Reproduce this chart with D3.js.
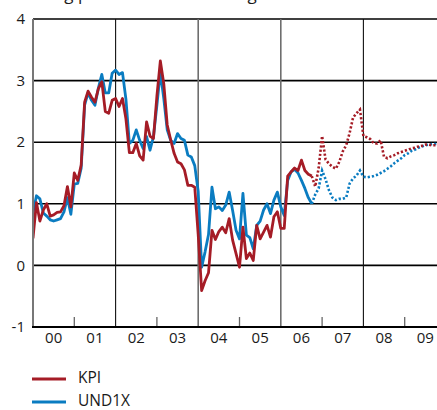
<!DOCTYPE html>
<html><head><meta charset="utf-8">
<script src="https://cdn.jsdelivr.net/npm/d3@7"></script>
<style>body{margin:0;background:#fff}svg{display:block}text{font-family:"Open Sans",sans-serif;fill:#1a1a1a}</style>
</head><body>
<script>
const title = "Årlig procentuell förändring";
const seriesNames = ["KPI", "UND1X"];
const seriesColors = ["#a51c26", "#0a7cc1"];
const startYear = 2000;
// monthly values Jan 2000 - Oct 2006 (outcome)
const kpiActual = [
  0.44,1.02,0.72,0.9,1.0,0.8,0.82,0.86,0.87,0.97,1.28,0.95,
  1.5,1.38,1.63,2.65,2.83,2.73,2.65,2.87,2.98,2.5,2.47,2.68,
  2.71,2.58,2.71,2.38,1.83,1.83,1.98,1.78,1.71,2.33,2.1,2.06,
  2.75,3.32,2.95,2.28,2.04,1.82,1.68,1.65,1.55,1.3,1.3,1.27,
  0.5,-0.41,-0.25,-0.12,0.57,0.42,0.55,0.62,0.53,0.76,0.41,0.19,
  -0.03,0.62,0.11,0.2,0.08,0.65,0.43,0.54,0.65,0.46,0.79,0.87,
  0.6,0.6,1.45,1.52,1.58,1.54,1.71,1.54,1.48,1.45];
const undActual = [
  0.85,1.13,1.08,0.85,0.8,0.74,0.72,0.74,0.76,0.87,1.1,0.83,
  1.32,1.33,1.58,2.6,2.8,2.68,2.6,2.88,3.1,2.8,2.8,3.12,
  3.17,3.1,3.13,2.7,1.98,2.03,2.2,2.03,1.9,2.09,1.87,2.09,
  2.6,3.14,2.71,2.2,2.03,1.98,2.14,2.06,2.03,1.79,1.76,1.62,
  1.2,-0.03,0.22,0.5,1.27,0.92,0.95,0.89,0.98,1.19,0.89,0.57,
  0.43,1.17,0.49,0.45,0.27,0.65,0.72,0.9,1.0,0.84,1.06,1.19,
  0.95,0.81,1.38,1.52,1.56,1.5,1.38,1.25,1.1,1.0];
// forecast Oct 2006 - Dec 2009
const forecastStart = 81;
const kpiForecast = [
  1.45,1.28,1.58,2.1,1.72,1.65,1.6,1.57,1.68,1.85,1.95,2.15,2.4,2.47,2.53,
  2.1,2.08,2.05,1.98,1.98,2.03,1.76,1.74,1.77,1.79,1.82,1.84,1.86,1.88,1.9,
  1.91,1.93,1.94,1.96,1.96,1.95,1.95,1.95,1.95];
const undForecast = [
  1.0,1.15,1.25,1.54,1.4,1.22,1.1,1.06,1.08,1.08,1.1,1.33,1.41,1.46,1.54,
  1.44,1.43,1.44,1.45,1.47,1.5,1.53,1.57,1.61,1.66,1.7,1.74,1.79,1.82,1.86,
  1.88,1.91,1.93,1.95,1.96,1.97,1.97,1.97,1.97];
const yTicks = [-1,0,1,2,3,4];
const yearLabels = ["00","01","02","03","04","05","06","07","08","09"];
const gridYears = [2002,2004,2006,2008];
const tickYears = [2001,2003,2005,2007,2009];

const W = 437, H = 410;
const L = 33, R = 437, T = 19, B = 327;
const x = d3.scaleLinear().domain([2000, 2010]).range([L, 446]);
const y = d3.scaleLinear().domain([-1, 4]).range([B, T]);

const svg = d3.select("body").append("svg").attr("width", W).attr("height", H);

svg.append("text").attr("x", 38).attr("y", 0).style("font-size", "17px").text(title);

svg.append("defs").append("clipPath").attr("id", "clip")
  .append("rect").attr("x", L).attr("y", T - 2).attr("width", R - L).attr("height", B - T + 4);

// horizontal grid
svg.append("g").selectAll("line").data(yTicks.filter(d => d > -1)).join("line")
  .attr("x1", L).attr("x2", R).attr("y1", d => y(d)).attr("y2", d => y(d))
  .attr("stroke", "#000").attr("stroke-width", 1.6);
// vertical grid
svg.append("g").selectAll("line").data(gridYears).join("line")
  .attr("x1", d => x(d)).attr("x2", d => x(d)).attr("y1", T).attr("y2", B)
  .attr("stroke", d => (d === 2004 || d === 2006) ? "#6e6e6e" : "#111")
  .attr("stroke-width", d => (d === 2004 || d === 2006) ? 1.6 : 1.1);
// small ticks
svg.append("g").selectAll("line").data(tickYears).join("line")
  .attr("x1", d => x(d)).attr("x2", d => x(d)).attr("y1", B - 10).attr("y2", B)
  .attr("stroke", "#666").attr("stroke-width", 1.3);

const line = d3.line().x(d => x(d.t)).y(d => y(d.v));
const toPts = (arr, off) => arr.map((v, i) => ({t: startYear + (i + off) / 12, v}));

const plot = svg.append("g").attr("clip-path", "url(#clip)");
const series = [
  {act: undActual, fc: undForecast, color: seriesColors[1]},
  {act: kpiActual, fc: kpiForecast, color: seriesColors[0]}
];
series.forEach(s => {
  plot.append("path").datum(toPts(s.fc, forecastStart)).attr("d", line)
    .attr("fill", "none").attr("stroke", s.color).attr("stroke-width", 2.6)
    .attr("stroke-dasharray", "2.2,2");
});
series.forEach(s => {
  plot.append("path").datum(toPts(s.act, 0)).attr("d", line)
    .attr("fill", "none").attr("stroke", s.color).attr("stroke-width", 2.8)
    .attr("stroke-linejoin", "round");
});

// left axis
svg.append("line").attr("x1", L).attr("x2", L).attr("y1", T).attr("y2", B)
  .attr("stroke", "#777").attr("stroke-width", 2);
// bottom axis
svg.append("line").attr("x1", L - 1).attr("x2", R).attr("y1", B).attr("y2", B)
  .attr("stroke", "#000").attr("stroke-width", 2.2);

// y labels
svg.append("g").selectAll("text").data(yTicks).join("text")
  .attr("x", 25).attr("y", d => y(d)).attr("dy", "0.35em").attr("text-anchor", "end")
  .style("font-size", "15px").text(d => d);
// x labels
svg.append("g").selectAll("text").data(yearLabels).join("text")
  .attr("x", (d, i) => x(2000 + i + 0.5)).attr("y", 343).attr("text-anchor", "middle")
  .style("font-size", "15px").text(d => d);

// legend
const leg = svg.append("g");
seriesNames.forEach((n, i) => {
  const yy = 379 + i * 23;
  leg.append("line").attr("x1", 32).attr("x2", 66).attr("y1", yy).attr("y2", yy)
    .attr("stroke", seriesColors[i]).attr("stroke-width", 2.8);
  leg.append("text").attr("x", 78).attr("y", yy - 1).attr("dy", "0.35em")
    .style("font-size", "15.5px").text(n);
});
</script>
</body></html>
